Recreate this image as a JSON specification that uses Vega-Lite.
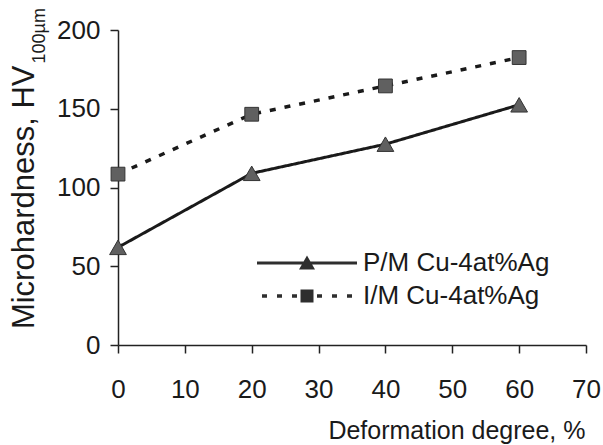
{
  "$schema": "https://vega.github.io/schema/vega-lite/v6.json",
  "autosize": "none",
  "padding": {"left": 118, "top": 30, "right": 17, "bottom": 100},
  "width": 468,
  "height": 315,
  "background": "white",
  "config": {
    "view": {"stroke": null},
    "font": "Liberation Sans, Arial, sans-serif",
    "axis": {
      "grid": false,
      "domainColor": "#222222",
      "domainWidth": 1.5,
      "tickColor": "#222222",
      "tickWidth": 1.5,
      "tickSize": 8,
      "labelFont": "Liberation Sans, Arial, sans-serif",
      "labelFontSize": 26,
      "labelColor": "#1a1a1a",
      "titleFont": "Liberation Sans, Arial, sans-serif",
      "titleFontWeight": "normal",
      "titleColor": "#1a1a1a"
    },
    "legend": {
      "title": null,
      "orient": "none",
      "labelFontSize": 26,
      "labelColor": "#1a1a1a",
      "labelOffset": 43,
      "labelLimit": 300,
      "symbolSize": 400,
      "symbolFillColor": "#2e2e2e",
      "symbolStrokeWidth": 0,
      "padding": 0
    }
  },
  "data": {
    "values": [
      {"deformation": 0, "hardness": 62, "series": "P/M Cu-4at%Ag"},
      {"deformation": 20, "hardness": 109, "series": "P/M Cu-4at%Ag"},
      {"deformation": 40, "hardness": 127.5, "series": "P/M Cu-4at%Ag"},
      {"deformation": 60, "hardness": 152.5, "series": "P/M Cu-4at%Ag"},
      {"deformation": 0, "hardness": 108.5, "series": "I/M Cu-4at%Ag"},
      {"deformation": 20, "hardness": 146.5, "series": "I/M Cu-4at%Ag"},
      {"deformation": 40, "hardness": 164.5, "series": "I/M Cu-4at%Ag"},
      {"deformation": 60, "hardness": 182.5, "series": "I/M Cu-4at%Ag"}
    ]
  },
  "resolve": {
    "axis": {"y": "independent"},
    "scale": {"strokeDash": "independent"},
    "legend": {"strokeDash": "independent"}
  },
  "layer": [
    {
      "transform": [{"filter": "datum.series === 'P/M Cu-4at%Ag'"}],
      "mark": {"type": "line", "color": "#1a1a1a", "strokeWidth": 3, "clip": false},
      "encoding": {
        "x": {
          "field": "deformation", "type": "quantitative",
          "scale": {"domain": [0, 70], "nice": false, "zero": false},
          "axis": {
            "values": [0, 10, 20, 30, 40, 50, 60, 70],
            "labelPadding": 23,
            "labelFlush": false,
            "title": "Deformation degree, %",
            "titleFontSize": 25,
            "titleAnchor": "end",
            "titleAlign": "right",
            "titleBaseline": "alphabetic",
            "titleX": 467,
            "titleY": 93
          }
        },
        "y": {
          "field": "hardness", "type": "quantitative",
          "scale": {"domain": [0, 200], "nice": false},
          "axis": {
            "values": [0, 50, 100, 150, 200],
            "labelPadding": 10,
            "labelFlush": false,
            "title": "Microhardness, HV",
            "titleFontSize": 31,
            "titleAngle": -90,
            "titleAlign": "right",
            "titleBaseline": "alphabetic",
            "titleX": -85,
            "titleY": 35
          }
        },
        "strokeDash": {
          "field": "series", "type": "nominal",
          "scale": {"range": [[1, 0]]},
          "legend": {
            "legendX": 176,
            "legendY": 220,
            "symbolType": "M-5,-0.15H5V0.15H-5Z M-0.8,0.65L0,-0.75L0.8,0.65Z"
          }
        }
      }
    },
    {
      "transform": [{"filter": "datum.series === 'I/M Cu-4at%Ag'"}],
      "mark": {"type": "line", "color": "#1a1a1a", "strokeWidth": 3.5, "clip": false},
      "encoding": {
        "x": {"field": "deformation", "type": "quantitative"},
        "y": {"field": "hardness", "type": "quantitative", "axis": null},
        "strokeDash": {
          "field": "series", "type": "nominal",
          "scale": {"range": [[6, 9]]},
          "legend": {
            "legendX": 176,
            "legendY": 253,
            "symbolType": "M-4.5,-0.17H-4V0.17H-4.5Z M-3,-0.17H-2.5V0.17H-3Z M-1.5,-0.17H-1V0.17H-1.5Z M1,-0.17H1.5V0.17H1Z M2.5,-0.17H3V0.17H2.5Z M4,-0.17H4.5V0.17H4Z M-0.65,-0.65H0.65V0.65H-0.65Z"
          }
        }
      }
    },
    {
      "transform": [{"filter": "datum.series === 'P/M Cu-4at%Ag'"}],
      "mark": {"type": "point", "shape": "triangle-up", "filled": true, "size": 280, "fill": "#606060", "stroke": "#333333", "strokeWidth": 1, "opacity": 1, "clip": false},
      "encoding": {
        "x": {"field": "deformation", "type": "quantitative"},
        "y": {
          "field": "hardness", "type": "quantitative",
          "axis": {
            "orient": "left",
            "labels": false,
            "ticks": false,
            "domain": false,
            "title": "100µm",
            "titleFontSize": 18,
            "titleAngle": -90,
            "titleAlign": "left",
            "titleBaseline": "alphabetic",
            "titleX": -74,
            "titleY": 33
          }
        }
      }
    },
    {
      "transform": [{"filter": "datum.series === 'I/M Cu-4at%Ag'"}],
      "mark": {"type": "point", "shape": "square", "filled": true, "size": 190, "fill": "#606060", "stroke": "#333333", "strokeWidth": 1, "opacity": 1, "clip": false},
      "encoding": {
        "x": {"field": "deformation", "type": "quantitative"},
        "y": {"field": "hardness", "type": "quantitative", "axis": null}
      }
    }
  ]
}
